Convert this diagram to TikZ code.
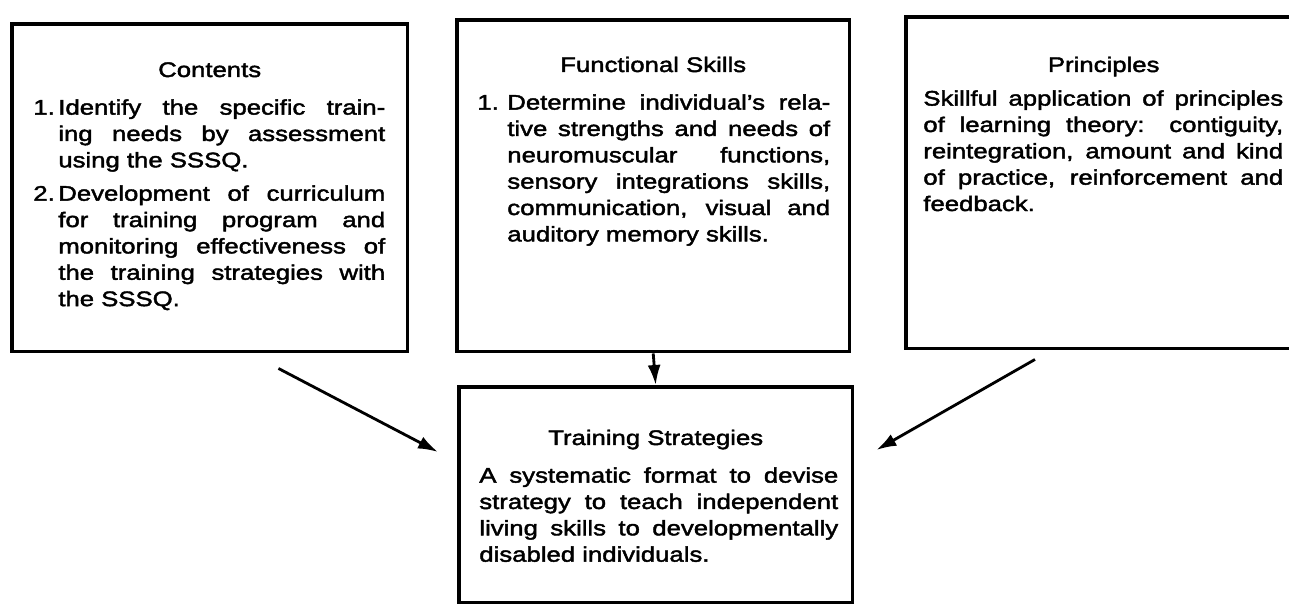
\documentclass[tikz,border=0pt]{standalone}
\usepackage{fontspec}
\setmainfont[FakeStretch=1.22,FakeBold=2]{Liberation Sans}
\usetikzlibrary{arrows.meta,positioning}

\tolerance=9999
\hbadness=10000
\newlength{\numwd}
\NewDocumentCommand{\numitem}{mm}{%
\noindent\hangindent=\numwd\hangafter=1\makebox[\numwd][l]{#1}#2\par%
}
\tikzset{
  box/.style={draw, line width=2pt, anchor=north west, inner sep=0pt},
  head/.style={anchor=base, inner sep=0pt, font=\fontsize{12}{15}\selectfont},
  body/.style={anchor=north west, inner sep=0pt, align=justify, font=\fontsize{12}{15}\selectfont},
  link/.style={-{Latex[length=4mm,width=2.6mm]}, line width=1.6pt},
}

\begin{document}
\begin{tikzpicture}[x=0.02cm,y=-0.02cm]
        \useasboundingbox (0,0) rectangle (1289,603);

        % Boxes.
        \node[box, minimum width=7.92cm, minimum height=6.56cm] (contents) at (10,22) {};
        \node[box, minimum width=7.86cm, minimum height=6.64cm] (skills) at (455,18) {};
        \node[box, minimum width=7.92cm, minimum height=6.64cm] (principles) at (904,15) {};
        \node[box, minimum width=7.88cm, minimum height=4.32cm] (training) at (457,385) {};

        % Titles.
        \node[head] (contentsT) at ([yshift=-1.1cm]contents.north) {Contents};
        \node[head] (skillsT) at ([yshift=-1.08cm]skills.north) {Functional Skills};
        \node[head] (principlesT) at ([yshift=-1.14cm]principles.north) {Principles};
        \node[head] (trainingT) at ([yshift=-1.2cm]training.north) {Training Strategies};

        % Texts.
        \node[body, text width=7.04cm] (contentsB) at ([xshift=0.46cm,yshift=-1.54cm]contents.north west) {%
          \setlength{\numwd}{0.5cm}%
          \numitem{1.}{Identify the specific train-\linebreak ing needs by assessment\linebreak using the SSSQ.}%
          \vspace{4pt}%
          \numitem{2.}{Development of curriculum\linebreak for training program and\linebreak monitoring effectiveness of\linebreak the training strategies with\linebreak the SSSQ.}};
        \node[body, text width=7.06cm] (skillsB) at ([xshift=0.44cm,yshift=-1.52cm]skills.north west) {%
          \setlength{\numwd}{0.6cm}%
          \numitem{1.}{Determine individual's rela-\linebreak tive strengths and needs of\linebreak neuromuscular functions,\linebreak sensory integrations skills,\linebreak communication, visual and\linebreak auditory memory skills.}};
        \node[body, text width=7.2cm] (principlesB) at ([xshift=0.38cm,yshift=-1.5cm]principles.north west) {%
          Skillful application of principles\linebreak of learning theory: contiguity,\linebreak reintegration, amount and kind\linebreak of practice, reinforcement and\linebreak feedback.};
        \node[body, text width=7.18cm] (trainingB) at ([xshift=0.44cm,yshift=-1.64cm]training.north west) {%
          A systematic format to devise\linebreak strategy to teach independent\linebreak living skills to developmentally\linebreak disabled individuals.};

        % Links.
        \draw[link] ([xshift=-2.62cm,yshift=-0.3cm]contents.south east) -- ([xshift=-0.38cm,yshift=-1.34cm]training.north west);
        \draw[link] (skills.south) -- (training.north);
        \draw[link] ([xshift=2.62cm,yshift=-0.18cm]principles.south west) -- ([xshift=0.44cm,yshift=-1.3cm]training.north east);
    \end{tikzpicture}
\end{document}
